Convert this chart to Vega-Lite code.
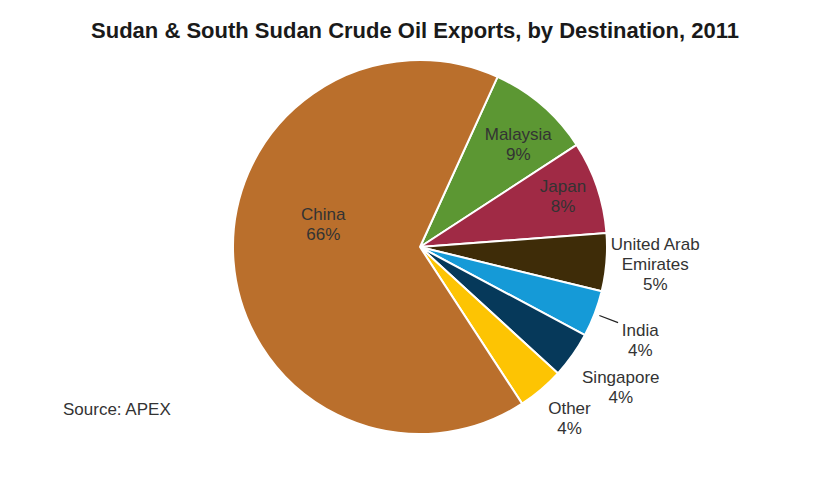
{
  "$schema": "https://vega.github.io/schema/vega-lite/v6.json",
  "background": "white",
  "padding": {"left": 25, "top": 20, "right": 5, "bottom": 5},
  "title": {"text": "Sudan & South Sudan Crude Oil Exports, by Destination, 2011", "fontSize": 22, "fontWeight": "bold", "font": "Liberation Sans", "color": "#1a1a1a", "anchor": "middle", "offset": -11, "dx": -5},
  "config": {"view": {"stroke": null}, "text": {"font": "Liberation Sans", "fontSize": 17, "lineHeight": 20, "lineBreak": "\n"}},
  "data": {"values": [
    {"idx": 1, "name": "Malaysia", "value": 9, "label": "Malaysia\n9%"},
    {"idx": 2, "name": "Japan", "value": 8, "label": "Japan\n8%"},
    {"idx": 3, "name": "United Arab Emirates", "value": 5, "label": "United Arab\nEmirates\n5%"},
    {"idx": 4, "name": "India", "value": 4, "label": "India\n4%"},
    {"idx": 5, "name": "Singapore", "value": 4, "label": "Singapore\n4%"},
    {"idx": 6, "name": "Other", "value": 4, "label": "Other\n4%"},
    {"idx": 7, "name": "China", "value": 66, "label": "China\n66%"}
  ]},
  "vconcat": [{
    "width": 790,
    "height": 380,
    "title": {"text": "Source: APEX", "orient": "bottom", "anchor": "start", "fontSize": 17, "fontWeight": "normal", "font": "Liberation Sans", "color": "#333333", "offset": -60, "dx": 38},
    "encoding": {
      "theta": {"field": "value", "type": "quantitative", "stack": true, "scale": {"range": [0.4276, 6.7108]}},
      "order": {"field": "idx", "type": "quantitative"}
    },
    "layer": [
      {
        "mark": {"type": "arc", "outerRadius": 187, "stroke": "white", "strokeWidth": 2},
        "encoding": {
          "color": {"field": "name", "type": "nominal", "legend": null,
            "scale": {"domain": ["Malaysia", "Japan", "United Arab Emirates", "India", "Singapore", "Other", "China"],
                      "range": ["#5C9733", "#A02A45", "#3E2C08", "#159AD7", "#06395A", "#FDC403", "#BA6F2C"]}}
        }
      },
      {
        "mark": {"type": "arc", "innerRadius": 192, "outerRadius": 212, "padAngle": 0.6, "fillOpacity": 0, "strokeWidth": 1.3},
        "encoding": {
          "stroke": {"condition": {"test": "datum.name === 'India'", "value": "#222222"}, "value": "transparent"}
        }
      },
      {
        "mark": {"type": "text", "radius": 97, "dy": -39, "color": "#333333", "align": "center", "baseline": "middle"},
        "encoding": {"text": {"condition": {"test": "datum.name === 'China'", "field": "label", "type": "nominal"}, "value": ""}}
      },
      {
        "mark": {"type": "text", "radius": 140, "dx": 7, "dy": -6, "color": "#333333", "align": "center", "baseline": "middle"},
        "encoding": {"text": {"condition": {"test": "datum.name === 'Malaysia'", "field": "label", "type": "nominal"}, "value": ""}}
      },
      {
        "mark": {"type": "text", "radius": 151, "dy": -12, "color": "#333333", "align": "center", "baseline": "middle"},
        "encoding": {"text": {"condition": {"test": "datum.name === 'Japan'", "field": "label", "type": "nominal"}, "value": ""}}
      },
      {
        "mark": {"type": "text", "radius": 236, "dy": -21, "color": "#333333", "align": "center", "baseline": "middle"},
        "encoding": {"text": {"condition": {"test": "datum.name === 'United Arab Emirates'", "field": "label", "type": "nominal"}, "value": ""}}
      },
      {
        "mark": {"type": "text", "radius": 240, "dx": -4, "dy": -2, "color": "#333333", "align": "center", "baseline": "middle"},
        "encoding": {"text": {"condition": {"test": "datum.name === 'India'", "field": "label", "type": "nominal"}, "value": ""}}
      },
      {
        "mark": {"type": "text", "radius": 246, "dy": -11, "color": "#333333", "align": "center", "baseline": "middle"},
        "encoding": {"text": {"condition": {"test": "datum.name === 'Singapore'", "field": "label", "type": "nominal"}, "value": ""}}
      },
      {
        "mark": {"type": "text", "radius": 228, "dx": 2, "dy": -12, "color": "#333333", "align": "center", "baseline": "middle"},
        "encoding": {"text": {"condition": {"test": "datum.name === 'Other'", "field": "label", "type": "nominal"}, "value": ""}}
      }
    ]
  }]
}
